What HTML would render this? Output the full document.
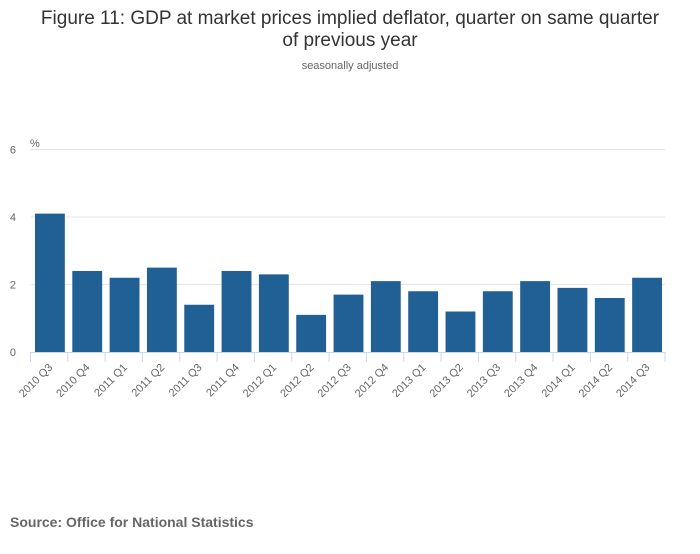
<!DOCTYPE html>
<html><head><meta charset="utf-8"><style>
body{margin:0;background:#fff;font-family:"Liberation Sans",sans-serif;}
</style></head><body>
<svg width="700" height="549" xmlns="http://www.w3.org/2000/svg">
<text x="350" y="24" text-anchor="middle" font-size="19" fill="#333">Figure 11: GDP at market prices implied deflator, quarter on same quarter</text>
<text x="350" y="46" text-anchor="middle" font-size="19" fill="#333">of previous year</text>
<text x="350" y="69" text-anchor="middle" font-size="11" fill="#666">seasonally adjusted</text>
<text x="30" y="147" font-size="11" fill="#666">%</text>
<g id="grid"></g><g id="bars"></g><g id="xaxis"></g>
<text x="10" y="527" font-size="14" font-weight="bold" fill="#666">Source: Office for National Statistics</text>
</svg>
<script>
const categories=["2010 Q3","2010 Q4","2011 Q1","2011 Q2","2011 Q3","2011 Q4","2012 Q1","2012 Q2","2012 Q3","2012 Q4","2013 Q1","2013 Q2","2013 Q3","2013 Q4","2014 Q1","2014 Q2","2014 Q3"];
const values=[4.1,2.4,2.2,2.5,1.4,2.4,2.3,1.1,1.7,2.1,1.8,1.2,1.8,2.1,1.9,1.6,2.2];
const yTicks=[0,2,4,6];
const NS="http://www.w3.org/2000/svg";
const L=30.5,R=665,Y0=352,Y6=149.5;
const band=(R-L)/categories.length;
const y=v=>Y0-(v/6)*(Y0-Y6);
const x=i=>L+i*band;
function mk(t,a,p){const e=document.createElementNS(NS,t);for(const k in a)e.setAttribute(k,a[k]);p.appendChild(e);return e;}
const g=document.getElementById('grid'),b=document.getElementById('bars'),xa=document.getElementById('xaxis');
yTicks.forEach(t=>{
 if(t>0){const ln=mk('line',{x1:L,x2:R,y1:y(t),y2:y(t),stroke:'#e6e6e6'},g);
 
 }
 const tx=mk('text',{x:16,y:y(t)+4,'text-anchor':'end','font-size':11,fill:'#666'},g);tx.textContent=t;
 
 
});
const ax=mk('line',{x1:L,x2:R,y1:Y0+0.5,y2:Y0+0.5,stroke:'#ccd6eb'},xa);


categories.forEach((c,i)=>{
 const r=mk('rect',{x:x(i)+band*0.12,y:y(values[i]),width:band*0.8,height:Y0-y(values[i]),fill:'#206095'},b);
 
 
 const tk=mk('line',{x1:x(i),x2:x(i),y1:Y0,y2:Y0+10,stroke:'#ccd6eb'},xa);
 
 
 const cx=x(i)+band/2+4,cy=Y0+16;
 const t=mk('text',{x:cx,y:cy,'text-anchor':'end','font-size':11,fill:'#666',transform:`rotate(-45 ${cx} ${cy})`},xa);
 t.textContent=c;
 
 
});
const lt=mk('line',{x1:R,x2:R,y1:Y0,y2:Y0+10,stroke:'#ccd6eb'},xa);


</script>
</body></html>
